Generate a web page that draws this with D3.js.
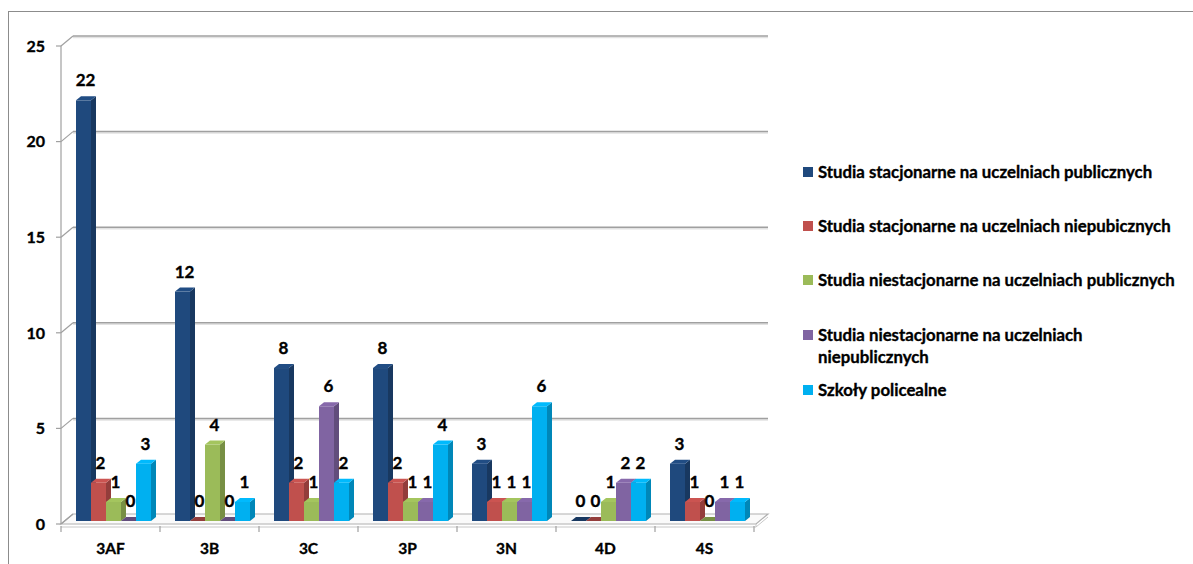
<!DOCTYPE html>
<html>
<head>
<meta charset="utf-8">
<script src="https://cdn.jsdelivr.net/npm/d3@7"></script>
<style>
  html, body { margin: 0; padding: 0; background: #fff; }
  svg { display: block; }
  text { font-family: Lato, "Open Sans", sans-serif; font-weight: bold; fill: #000; stroke: #000; stroke-width: 0.35px; }
</style>
</head>
<body>
<svg id="chart" width="1193" height="564"></svg>
<script>
const categories = ["3AF", "3B", "3C", "3P", "3N", "4D", "4S"];
const seriesNames = [
  "Studia stacjonarne na uczelniach publicznych",
  "Studia stacjonarne na uczelniach niepubicznych",
  "Studia niestacjonarne na uczelniach publicznych",
  "Studia niestacjonarne na uczelniach niepublicznych",
  "Szkoły policealne"
];
const legendLines = [
  ["Studia stacjonarne na uczelniach publicznych"],
  ["Studia stacjonarne na uczelniach niepubicznych"],
  ["Studia niestacjonarne na uczelniach publicznych"],
  ["Studia niestacjonarne na uczelniach", "niepublicznych"],
  ["Szkoły policealne"]
];
const stacjPubliczne     = [22, 12, 8, 8, 3, 0, 3];
const stacjNiepubliczne  = [2, 0, 2, 2, 1, 0, 1];
const niestacjPubliczne  = [1, 4, 1, 1, 1, 1, 0];
const niestacjNiepubl    = [0, 0, 6, 1, 1, 2, 1];
const policealne         = [3, 1, 2, 4, 6, 2, 1];
const seriesValues = [stacjPubliczne, stacjNiepubliczne, niestacjPubliczne, niestacjNiepubl, policealne];
const yTicks = [0, 5, 10, 15, 20, 25];
const colors = ["#1F497D", "#C0504D", "#9BBB59", "#8064A2", "#00B0F0"];

const svg = d3.select("#chart");

// frame
svg.append("rect").attr("x", 8.5).attr("y", 11.5).attr("width", 1300).attr("height", 700)
  .attr("fill", "none").attr("stroke", "#8c8c8c").attr("stroke-width", 1);

const DX = 12, DY = -10;       // back wall offset
const y = d3.scaleLinear().domain([0, 25]).range([524, 46]);
const x0 = d3.scaleBand().domain(categories).range([61, 754]);
const x1 = d3.scaleBand().domain(d3.range(seriesNames.length)).range([12, 87]);
const bx = 3, by = -3;         // bar depth position
const sdx = 5, sdy = -4;       // bar side depth

const grid = svg.append("g");
// floor
const fl = y(0);
grid.append("path")
  .attr("d", `M61,${fl}L${756},${fl}L${756 + DX},${fl + DY}L${61 + DX},${fl + DY}Z`)
  .attr("fill", "#fafafa").attr("stroke", "#b0b0b0").attr("stroke-width", 1.2);
grid.append("line").attr("x1", 61).attr("x2", 756).attr("y1", fl + 3).attr("y2", fl + 3)
  .attr("stroke", "#c8c8c8").attr("stroke-width", 1);
grid.append("line").attr("x1", 756).attr("x2", 756).attr("y1", fl).attr("y2", fl + 3)
  .attr("stroke", "#c8c8c8");
grid.append("line").attr("x1", 756).attr("x2", 768).attr("y1", fl + 3).attr("y2", fl + 3 + DY)
  .attr("stroke", "#c8c8c8");

// gridlines (back wall)
yTicks.filter(v => v > 0).forEach(v => {
  grid.append("line").attr("x1", 61 + DX).attr("x2", 768).attr("y1", y(v) + DY + 1.5).attr("y2", y(v) + DY + 1.5)
    .attr("stroke", "#e2e2e2").attr("stroke-width", 1.5);
  grid.append("line").attr("x1", 61 + DX).attr("x2", 768).attr("y1", y(v) + DY).attr("y2", y(v) + DY)
    .attr("stroke", "#a0a0a0").attr("stroke-width", 1.5);
});
// diagonals & ticks on front axis
yTicks.forEach(v => {
  grid.append("line").attr("x1", 61).attr("y1", y(v)).attr("x2", 61 + DX).attr("y2", y(v) + DY)
    .attr("stroke", "#a0a0a0").attr("stroke-width", 1.2);
  grid.append("line").attr("x1", 56).attr("x2", 61).attr("y1", y(v)).attr("y2", y(v))
    .attr("stroke", "#a0a0a0").attr("stroke-width", 1.2);
});
// front vertical axis
grid.append("line").attr("x1", 61).attr("x2", 61).attr("y1", y(25)).attr("y2", y(0))
  .attr("stroke", "#a0a0a0").attr("stroke-width", 1.2);
// category ticks
categories.forEach((c, i) => {
  const xx = x0(c);
  grid.append("line").attr("x1", xx).attr("x2", xx).attr("y1", fl + 2).attr("y2", fl + 8)
    .attr("stroke", "#a0a0a0").attr("stroke-width", 1.2);
});
grid.append("line").attr("x1", x0.range()[1]).attr("x2", x0.range()[1]).attr("y1", fl + 2).attr("y2", fl + 8)
  .attr("stroke", "#a0a0a0").attr("stroke-width", 1.2);

// y tick labels
svg.append("g").selectAll("text").data(yTicks).join("text")
  .attr("x", 45).attr("y", d => y(d)).attr("dy", "0.36em")
  .attr("text-anchor", "end").attr("font-size", 16).text(d => d);

// category labels
svg.append("g").selectAll("text").data(categories).join("text")
  .attr("x", d => x0(d) + x0.bandwidth() / 2).attr("y", 554)
  .attr("text-anchor", "middle").attr("font-size", 15.5).text(d => d);

// bars
const bars = svg.append("g");
const bw = x1.bandwidth();
categories.forEach((c, ci) => {
  seriesValues.forEach((vals, si) => {
    const v = vals[ci];
    const xl = x0(c) + x1(si) + bx;
    const yb = y(0) + by;
    const yt = y(v) + by;
    const col = d3.color(colors[si]);
    const side = col.darker(0.75);
    const top = col.brighter(0.15);
    const g = bars.append("g");
    if (v > 0) {
      g.append("rect").attr("x", xl).attr("y", yt).attr("width", bw).attr("height", yb - yt)
        .attr("fill", col.formatHex());
      g.append("path")
        .attr("d", `M${xl + bw},${yt}L${xl + bw + sdx},${yt + sdy}L${xl + bw + sdx},${yb + sdy}L${xl + bw},${yb}Z`)
        .attr("fill", side.formatHex());
    }
    g.append("path")
      .attr("d", `M${xl},${yt}L${xl + bw},${yt}L${xl + bw + sdx},${yt + sdy}L${xl + sdx},${yt + sdy}Z`)
      .attr("fill", v > 0 ? top.formatHex() : side.formatHex());
    // value label
    svg.append("text")
      .attr("x", xl + bw / 2 + 2).attr("y", yt - 14)
      .attr("text-anchor", "middle").attr("font-size", 17).text(v);
  });
});

// legend
const lg = svg.append("g");
const legendY = [172, 226, 280, 335, 390];
legendLines.forEach((lines, i) => {
  lg.append("rect").attr("x", 803).attr("y", legendY[i] - 5).attr("width", 10).attr("height", 10)
    .attr("fill", colors[i]);
  lines.forEach((t, j) => {
    lg.append("text").attr("x", 818).attr("y", legendY[i] + j * 22).attr("dy", "0.36em")
      .attr("font-size", 16.8).text(t);
  });
});
</script>
</body>
</html>
